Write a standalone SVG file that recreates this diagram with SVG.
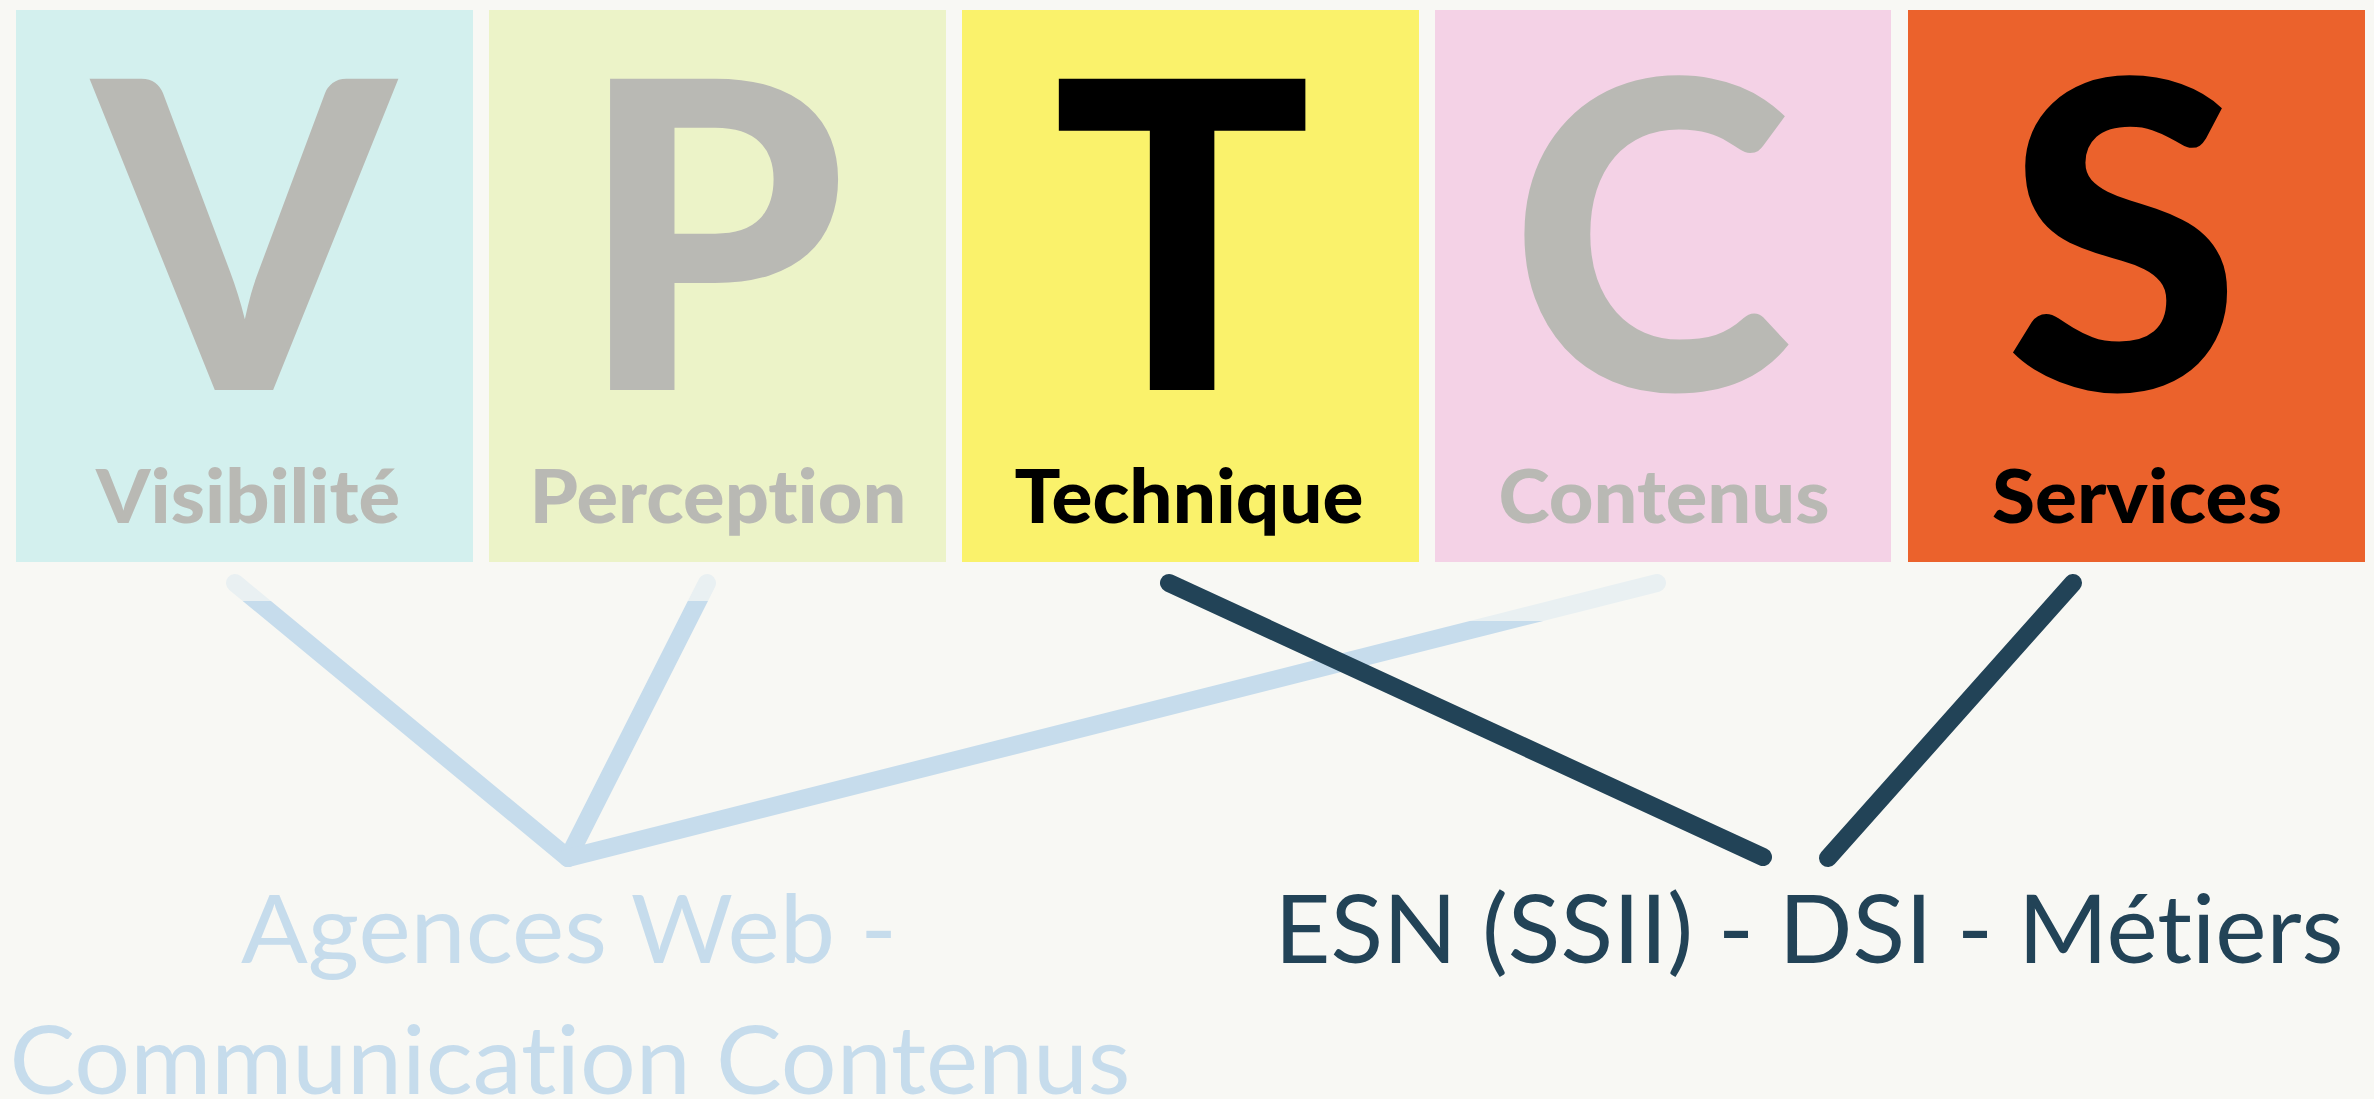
<svg xmlns="http://www.w3.org/2000/svg" width="2374" height="1099" viewBox="0 0 2374 1099">
<style>
text{font-variant-ligatures:none;font-feature-settings:"liga" 0,"clig" 0,"dlig" 0}
.big{font-family:Lato,"Liberation Sans",sans-serif;font-weight:900;font-size:429px;text-anchor:middle}
.lab{font-family:Lato,"Liberation Sans",sans-serif;font-weight:900;font-size:74px;text-anchor:middle}
.grey{fill:#b9b9b4}
.blk{fill:#000}
.bot{font-family:Lato,"Liberation Sans",sans-serif;font-weight:400;font-size:95px;text-anchor:middle}
.light{stroke:#c6dcec;stroke-width:18;stroke-linecap:round;fill:none}
.faded{stroke:#e9f0f2;stroke-width:18;stroke-linecap:round;fill:none}
.dark{stroke:#224357;stroke-width:18;stroke-linecap:round;fill:none}
</style>
<defs>
<clipPath id="fadeA"><rect x="0" y="0" width="2374" height="601"/></clipPath>
<clipPath id="solidA"><rect x="0" y="601" width="2374" height="498"/></clipPath>
<clipPath id="fadeB"><rect x="0" y="0" width="2374" height="621"/></clipPath>
<clipPath id="solidB"><rect x="0" y="621" width="2374" height="478"/></clipPath>
</defs>
<rect x="0" y="0" width="2374" height="1099" fill="#f8f8f4"/>

<g id="node-V">
<rect x="16" y="10" width="457" height="552" fill="#d3f0ee"/>
<text class="big grey" x="244" y="390">V</text>
<text class="lab grey" x="248" y="523" textLength="304" lengthAdjust="spacingAndGlyphs">Visibilité</text>
</g>
<g id="node-P">
<rect x="489" y="10" width="457" height="552" fill="#ecf3c8"/>
<text class="big grey" x="712" y="390">P</text>
<text class="lab grey" x="718" y="523" textLength="377" lengthAdjust="spacingAndGlyphs">Perception</text>
</g>
<g id="node-T">
<rect x="962" y="10" width="457" height="552" fill="#faf26b"/>
<text class="big blk" x="1182" y="390">T</text>
<text class="lab blk" x="1189" y="523" textLength="349" lengthAdjust="spacingAndGlyphs">Technique</text>
</g>
<g id="node-C">
<rect x="1435" y="10" width="456" height="552" fill="#f4d2e6"/>
<text class="big grey" x="1651" y="390">C</text>
<text class="lab grey" x="1664" y="523" textLength="331" lengthAdjust="spacingAndGlyphs">Contenus</text>
</g>
<g id="node-S">
<rect x="1908" y="10" width="457" height="552" fill="#eb622c"/>
<text class="big blk" x="2123" y="390">S</text>
<text class="lab blk" x="2137" y="523" textLength="290" lengthAdjust="spacingAndGlyphs">Services</text>
</g>

<g id="connectors">
<line class="light" x1="235" y1="583" x2="568" y2="858" clip-path="url(#solidA)"/>
<line class="faded" x1="235" y1="583" x2="568" y2="858" clip-path="url(#fadeA)"/>
<line class="light" x1="707" y1="583" x2="568" y2="858" clip-path="url(#solidA)"/>
<line class="faded" x1="707" y1="583" x2="568" y2="858" clip-path="url(#fadeA)"/>
<line class="light" x1="1657" y1="583" x2="568" y2="858" clip-path="url(#solidB)"/>
<line class="faded" x1="1657" y1="583" x2="568" y2="858" clip-path="url(#fadeB)"/>
<line class="dark" x1="1169" y1="583" x2="1763" y2="857"/>
<line class="dark" x1="2073" y1="583" x2="1828" y2="858"/>
</g>

<g id="node-agences">
<text class="bot" fill="#c6dcec" x="569" y="963" textLength="656" lengthAdjust="spacingAndGlyphs">Agences Web -</text>
<text class="bot" fill="#c6dcec" x="570" y="1094" textLength="1121" lengthAdjust="spacingAndGlyphs">Communication Contenus</text>
</g>
<g id="node-esn">
<text class="bot" fill="#224357" x="1809" y="963" textLength="1069" lengthAdjust="spacingAndGlyphs">ESN (SSII) - DSI - Métiers</text>
</g>
</svg>
